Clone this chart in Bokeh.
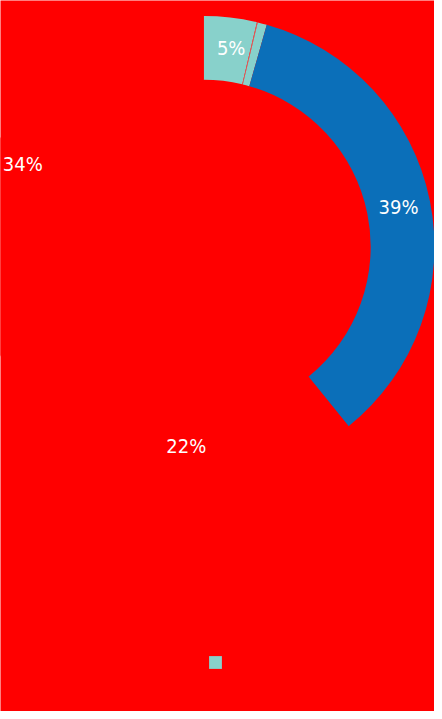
import numpy as np
from bokeh.plotting import figure
from bokeh.models import ColumnDataSource, Range1d, Legend, LegendItem
from bokeh.core.properties import value
from bokeh.embed import file_html
from bokeh.resources import INLINE

# ---- data (shares of the ring) ----
slice_names = ["A", "A-sep", "A2", "B", "C", "D"]
slice_values = [3.7, 0.06, 0.64, 34.8, 24.4, 36.4]
slice_colors = ["#88d1cb", "#e85a5a", "#88d1cb", "#0b6fb9", "#ff0000", "#ff0000"]
label_groups = [[0, 1, 2], [3], [4], [5]]
label_texts = ["5%", "39%", "22%", "34%"]

# layout (reference drawn in a 442 x 719 space, shown in a 434 x 711 figure)
W, H = 434, 711
RW, RH = 442, 719
CX, CY = 207, RH - 249
R_OUT, R_IN = 235, 170
BG = "#ff0000"

vals = np.array(slice_values, dtype=float)
frac = vals / vals.sum()
cum_end = np.cumsum(frac)
cum_start = cum_end - frac
start_angle = np.pi / 2 - cum_end * 2 * np.pi
end_angle = np.pi / 2 - cum_start * 2 * np.pi

src = ColumnDataSource(dict(
    name=slice_names,
    x=[CX] * len(vals), y=[CY] * len(vals),
    start=start_angle, end=end_angle, color=slice_colors,
))

p = figure(width=W, height=H, output_backend="svg", toolbar_location=None,
           x_range=Range1d(0, RW), y_range=Range1d(0, RH),
           min_border=0, background_fill_color=BG, border_fill_color=BG,
           outline_line_color=None)
p.axis.visible = False
p.grid.visible = False

p.annular_wedge(x="x", y="y", inner_radius=R_IN, outer_radius=R_OUT,
                start_angle="start", end_angle="end",
                fill_color="color", line_color=None, source=src)

# labels at group midpoints, mid-ring
r_mid = (R_IN + R_OUT) / 2
lx, ly = [], []
for g in label_groups:
    s = cum_start[g[0]]
    e = cum_end[g[-1]]
    a = np.pi / 2 - (s + e) / 2 * 2 * np.pi
    lx.append(CX + r_mid * np.cos(a))
    ly.append(CY + r_mid * np.sin(a))
p.text(x=lx, y=ly, text=label_texts, text_color="white",
       text_font=value("DejaVu Sans Condensed"), text_font_size="20px",
       text_align="center", text_baseline="middle")

# legend: single teal square
leg_src = ColumnDataSource(dict(x=[CX], y=[CY], start=[0.0], end=[0.0]))
leg_r = p.annular_wedge(x="x", y="y", inner_radius=0, outer_radius=0,
                        start_angle="start", end_angle="end",
                        fill_color=slice_colors[0], line_color=None, source=leg_src)
legend = Legend(items=[LegendItem(label="", renderers=[leg_r])],
                location=(207, 41), orientation="horizontal",
                glyph_width=16, glyph_height=16, label_width=0, label_height=16,
                label_standoff=0, padding=0, margin=0, spacing=0,
                label_text_font_size="8px", label_text_color=BG,
                border_line_alpha=0, background_fill_alpha=0)
p.add_layout(legend, "center")

open("out.html", "w").write(file_html(p, INLINE))
